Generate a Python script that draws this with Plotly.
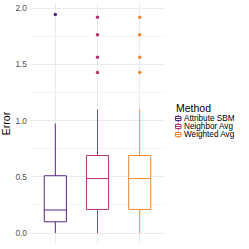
import plotly.graph_objects as go

methods = ["Attribute SBM", "Neighbor Avg", "Weighted Avg"]
q1_vals = [0.10, 0.21, 0.21]
median_vals = [0.205, 0.485, 0.485]
q3_vals = [0.51, 0.69, 0.69]
lower_vals = [0.0, 0.0, 0.0]
upper_vals = [0.975, 1.10, 1.10]
outliers = [
    [1.945],
    [1.43, 1.565, 1.765, 1.92],
    [1.43, 1.565, 1.765, 1.92],
]
colors = ["#5B2286", "#B0356F", "#F08A35"]
legend_title = "Method"

W, H = 249, 249
ML, MR, MT, MB = 30, 84, 3, 5
PW, PH = W - ML - MR, H - MT - MB


def px_x(px):
    return (px - ML) / PW


def px_y(py):
    return (H - MB - py) / PH


fig = go.Figure()
for m, a, md, b, lo, hi, c in zip(methods, q1_vals, median_vals, q3_vals,
                                   lower_vals, upper_vals, colors):
    fig.add_trace(go.Box(
        x=[m], q1=[a], median=[md], q3=[b], lowerfence=[lo], upperfence=[hi],
        name=m, fillcolor="white", line=dict(color=c, width=1),
        whiskerwidth=0, boxpoints=False, hoverinfo="skip", showlegend=False,
    ))
for m, pts, c in zip(methods, outliers, colors):
    fig.add_trace(go.Scatter(
        x=[m] * len(pts), y=pts, mode="markers", showlegend=False,
        marker=dict(color=c, size=3.5), hoverinfo="skip",
    ))

# manual legend (ggplot-like compact keys)
annotations = [dict(
    text=legend_title, x=px_x(174), y=px_y(107.5), xref="paper", yref="paper",
    xanchor="left", yanchor="middle", showarrow=False,
    font=dict(size=10.5, color="black"),
)]
shapes = []
row_y = [118.5, 126.5, 134.5]
for m, c, ry in zip(methods, colors, row_y):
    x0, x1 = px_x(175.5), px_x(181)
    xm = px_x(178.25)
    shapes.append(dict(type="rect", xref="paper", yref="paper",
                       x0=x0, x1=x1, y0=px_y(ry + 2), y1=px_y(ry - 2),
                       line=dict(color=c, width=1), fillcolor="white"))
    shapes.append(dict(type="line", xref="paper", yref="paper",
                       x0=x0, x1=x1, y0=px_y(ry), y1=px_y(ry),
                       line=dict(color=c, width=1)))
    shapes.append(dict(type="line", xref="paper", yref="paper",
                       x0=xm, x1=xm, y0=px_y(ry - 2), y1=px_y(ry - 3.5),
                       line=dict(color=c, width=1)))
    shapes.append(dict(type="line", xref="paper", yref="paper",
                       x0=xm, x1=xm, y0=px_y(ry + 2), y1=px_y(ry + 3.5),
                       line=dict(color=c, width=1)))
    annotations.append(dict(
        text=m, x=px_x(182), y=px_y(ry), xref="paper", yref="paper",
        xanchor="left", yanchor="middle", showarrow=False,
        font=dict(size=8.2, color="black"),
    ))

fig.update_layout(
    width=W, height=H,
    margin=dict(l=ML, r=MR, t=MT, b=MB, autoexpand=False),
    paper_bgcolor="white", plot_bgcolor="white",
    font=dict(family="Liberation Sans, Arial, sans-serif", color="#4D4D4D", size=8.3),
    boxmode="overlay", boxgap=0.25, showlegend=False,
    annotations=annotations, shapes=shapes,
    xaxis=dict(
        type="category", categoryorder="array", categoryarray=methods,
        range=[-0.6, 2.6], showticklabels=False, ticks="",
        showgrid=True, gridcolor="#EBEBEB", gridwidth=1, zeroline=False,
        showline=False,
    ),
    yaxis=dict(
        range=[-0.0975, 2.0475], tickvals=[0, 0.5, 1.0, 1.5, 2.0],
        tickformat=".1f", ticks="", showgrid=True, gridcolor="#EBEBEB",
        gridwidth=1, zeroline=False, showline=False,
        minor=dict(tickvals=[0.25, 0.75, 1.25, 1.75], showgrid=True,
                   gridcolor="#F5F5F5", gridwidth=1),
        title=dict(text="Error", font=dict(size=10.5, color="black"), standoff=3),
        ticklabelstandoff=2,
    ),
)

fig.write_html(
    "out.html",
    config={"displayModeBar": False},
    post_script="document.body.style.margin='0';document.body.style.padding='0';",
)
